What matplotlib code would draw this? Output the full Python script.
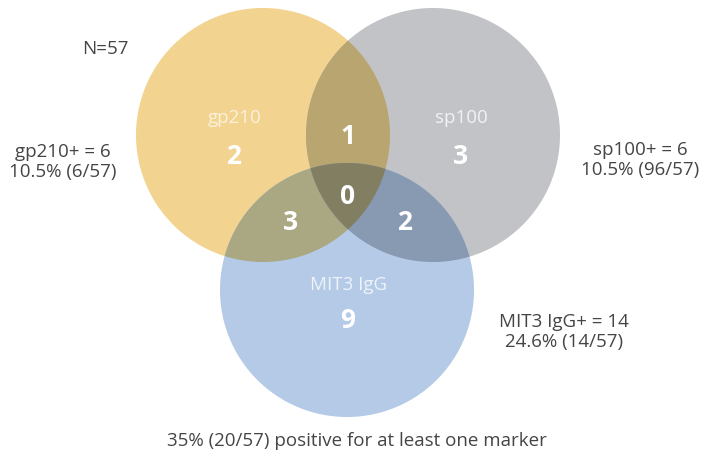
import numpy as np
import matplotlib
matplotlib.use("Agg")
import matplotlib.pyplot as plt
from matplotlib.patches import Polygon

plt.rcParams['font.family'] = ['Open Sans', 'DejaVu Sans']

# ---- data ----
set_names = ["gp210", "sp100", "MIT3 IgG"]
only_counts = [2, 3, 9]              # gp210 only, sp100 only, MIT3 only
pair_counts = {"AB": 1, "AC": 3, "BC": 2}
triple_count = 0
totals = [6, 6, 14]
total_labels = ["gp210+ = 6\n10.5% (6/57)",
                "sp100+ = 6\n10.5% (96/57)",
                "MIT3 IgG+ = 14\n24.6% (14/57)"]
n_label = "N=57"
footer = "35% (20/57) positive for at least one marker"

# ---- layout / style ----
W, H = 712, 459
centers = [(263, 135), (433, 135), (347, 290)]
R = 127
base_cols = ["#F2D390", "#C2C3C7", "#B4CAE6"]
pair_cols = {"AB": "#B9A570", "AC": "#AAA883", "BC": "#8899B2"}
triple_col = "#827E62"
txt_col = "#454545"


def circle_poly(c, r, n=720):
    t = np.linspace(0, 2 * np.pi, n, endpoint=False)
    return [(c[0] + r * np.cos(a), c[1] + r * np.sin(a)) for a in t]


def clip(subject, clipper):
    # Sutherland-Hodgman (clipper convex)
    def inside(p, a, b):
        return (b[0] - a[0]) * (p[1] - a[1]) - (b[1] - a[1]) * (p[0] - a[0]) >= 0

    def inter(p1, p2, a, b):
        x1, y1 = p1; x2, y2 = p2; x3, y3 = a; x4, y4 = b
        den = (x1 - x2) * (y3 - y4) - (y1 - y2) * (x3 - x4)
        t = ((x1 - x3) * (y3 - y4) - (y1 - y3) * (x3 - x4)) / den
        return (x1 + t * (x2 - x1), y1 + t * (y2 - y1))

    out = subject
    for i in range(len(clipper)):
        a = clipper[i - 1]; b = clipper[i]
        inp = out; out = []
        if not inp:
            break
        s = inp[-1]
        for e in inp:
            if inside(e, a, b):
                if not inside(s, a, b):
                    out.append(inter(s, e, a, b))
                out.append(e)
            elif inside(s, a, b):
                out.append(inter(s, e, a, b))
            s = e
    return out


fig = plt.figure(figsize=(W / 100, H / 100), dpi=100)
ax = fig.add_axes([0, 0, 1, 1])
ax.set_xlim(0, W)
ax.set_ylim(H, 0)
ax.set_aspect('equal')
ax.axis('off')

polys = [circle_poly(c, R) for c in centers]
for p, col in zip(polys, base_cols):
    ax.add_patch(Polygon(p, closed=True, facecolor=col, edgecolor='none', zorder=1))

idx = {"A": 0, "B": 1, "C": 2}
for key, col in pair_cols.items():
    pp = clip(polys[idx[key[0]]], polys[idx[key[1]]])
    ax.add_patch(Polygon(pp, closed=True, facecolor=col, edgecolor='none', zorder=2))
tp = clip(clip(polys[0], polys[1]), polys[2])
ax.add_patch(Polygon(tp, closed=True, facecolor=triple_col, edgecolor='none', zorder=3))

# set names inside circles
name_pos = [(235, 118), (461, 118), (349, 285)]
name_cols = ["#FBF1DC", "#F2F2F4", "#EEF3FA"]
for nm, pos, col in zip(set_names, name_pos, name_cols):
    ax.text(pos[0], pos[1], nm, ha='center', va='center', fontsize=13.5,
            color=col, zorder=5)

num_kw = dict(ha='center', va='center', fontsize=19, fontweight='bold',
              color='white', zorder=5)
only_pos = [(234, 157), (460, 157), (348, 321)]
for v, pos in zip(only_counts, only_pos):
    ax.text(pos[0], pos[1], str(v), **num_kw)
pair_pos = {"AB": (348, 137), "AC": (290, 222), "BC": (405, 222)}
for k, v in pair_counts.items():
    ax.text(pair_pos[k][0], pair_pos[k][1], str(v), **num_kw)
ax.text(348, 196, str(triple_count), **num_kw)

# outside labels
out_pos = [(63, 162), (640, 160), (564, 332)]
for lab, pos in zip(total_labels, out_pos):
    ax.text(pos[0], pos[1], lab, ha='center', va='center', fontsize=13.5,
            color=txt_col, linespacing=1.12)
ax.text(105, 49, n_label, ha='center', va='center', fontsize=13.5, color=txt_col)
ax.text(357, 441, footer, ha='center', va='center', fontsize=13.5, color=txt_col)

fig.savefig("out.png", dpi=100)
